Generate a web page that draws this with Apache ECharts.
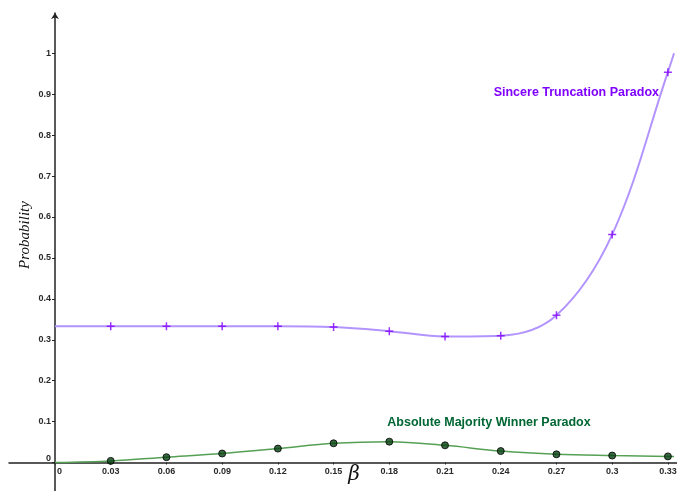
<!DOCTYPE html>
<html>
<head>
<meta charset="utf-8">
<script src="https://cdn.jsdelivr.net/npm/echarts@6/dist/echarts.min.js"></script>
<style>
	html,body{margin:0;padding:0;background:#fff;}
	#main{width:677px;height:491px;}
</style>
</head>
<body>
<div id="main"></div>
<script>
	// beta values where the markers sit
	var betaTicks=[0,0.03,0.06,0.09,0.12,0.15,0.18,0.21,0.24,0.27,0.3,0.33];
	var probTicks=[0,0.1,0.2,0.3,0.4,0.5,0.6,0.7,0.8,0.9,1];
	var markerBeta=[0.03,0.06,0.09,0.12,0.15,0.18,0.21,0.24,0.27,0.3,0.33];
	var sincereVals=[0.333,0.333,0.333,0.333,0.331,0.321,0.308,0.310,0.360,0.557,0.954];
	var majorityVals=[0.004,0.013,0.022,0.034,0.047,0.051,0.042,0.028,0.020,0.017,0.015];
	// curve end points (beta = 0 and beta = 1/3)
	var sincereStart=[0,0.3333], sincereEnd=[0.3333,1.0];
	var majorityStart=[0,0], majorityEnd=[0.3333,0.0145];

	function pairs(xs,ys){
		var out=[];
		for(var i=0;i<xs.length;i++){
			out.push([xs[i],ys[i]]);
		}
		return out;
	}
	var sincerePts=pairs(markerBeta,sincereVals);
	var majorityPts=pairs(markerBeta,majorityVals);
	var sincereCurve=[sincereStart].concat(sincerePts,[sincereEnd]);
	var majorityCurve=[majorityStart].concat(majorityPts,[majorityEnd]);

	var tickFont={fontSize:9,fontWeight:'bold',color:'#2a2a2a',fontFamily:'Liberation Sans, Arial, sans-serif'};

	var myChart=echarts.init(document.getElementById('main'));
	var option={
		animation:false,
		grid:{left:9,right:0,top:13,bottom:0,containLabel:false,outerBoundsMode:'none'},
		xAxis:{
			type:'value',
			position:'bottom',
			min:-0.02477,
			max:0.3349,
			offset:-28.5,	// move axis up onto y = 0
			splitLine:{show:false},
			axisLine:{onZero:false,lineStyle:{color:'#222',width:1.5}},
			axisTick:{show:true,length:2,customValues:betaTicks,lineStyle:{color:'#222'}},
			axisLabel:Object.assign({
				margin:5,
				customValues:betaTicks,
				formatter:function(v){return v===0?'{z|0}':String(v);},
				rich:{z:Object.assign({padding:[0,0,0,9]},tickFont)}
			},tickFont)
		},
		yAxis:{
			type:'value',
			position:'left',
			min:-0.0696,
			max:1.0985,
			offset:-46,	// move axis right onto x = 0
			splitLine:{show:false},
			axisLine:{onZero:false,symbol:['none','arrow'],symbolSize:[6,6],lineStyle:{color:'#222',width:1.5}},
			axisTick:{show:true,length:3,customValues:probTicks,lineStyle:{color:'#222'}},
			axisLabel:Object.assign({
				margin:4,
				customValues:probTicks,
				formatter:function(v){return v===0?'{z|0}':String(v);},
				rich:{z:Object.assign({padding:[0,0,8,0]},tickFont)}
			},tickFont)
		},
		graphic:[
			{type:'text',x:25,y:235,rotation:Math.PI/2,
				style:{text:'Probability',font:'italic 15px "Liberation Serif", "Times New Roman", serif',fill:'#111',textAlign:'center',textVerticalAlign:'middle'}},
			{type:'text',x:354,y:475,
				style:{text:'β',font:'italic 20px "DejaVu Serif", serif',fill:'#111',textAlign:'center',textVerticalAlign:'middle'}},
			{type:'text',x:659,y:93,
				style:{text:'Sincere Truncation Paradox',font:'bold 12.5px "Liberation Sans", Arial, sans-serif',fill:'#7f00ff',textAlign:'right',textVerticalAlign:'middle'}},
			{type:'text',x:489,y:423,
				style:{text:'Absolute Majority Winner Paradox',font:'bold 12.5px "Liberation Sans", Arial, sans-serif',fill:'#006633',textAlign:'center',textVerticalAlign:'middle'}}
		],
		series:[
			{
				name:'Sincere Truncation Paradox',
				type:'line',
				data:sincereCurve,
				smooth:0.35,
				showSymbol:false,
				lineStyle:{color:'#b394ff',width:2},
				z:2
			},
			{
				type:'scatter',
				data:sincerePts,
				symbol:'path://M0,-1L0,1M-1,0L1,0',
				symbolSize:8,
				itemStyle:{color:'none',borderColor:'#7f00ff',borderWidth:1.5},
				z:3
			},
			{
				name:'Absolute Majority Winner Paradox',
				type:'line',
				data:majorityCurve,
				smooth:0.35,
				showSymbol:false,
				lineStyle:{color:'#55a055',width:1.5},
				z:2
			},
			{
				type:'scatter',
				data:majorityPts,
				symbol:'circle',
				symbolSize:7,
				itemStyle:{color:'#064010',borderColor:'#000',borderWidth:1},
				z:3
			}
		]
	};
	myChart.setOption(option);
</script>
</body>
</html>
